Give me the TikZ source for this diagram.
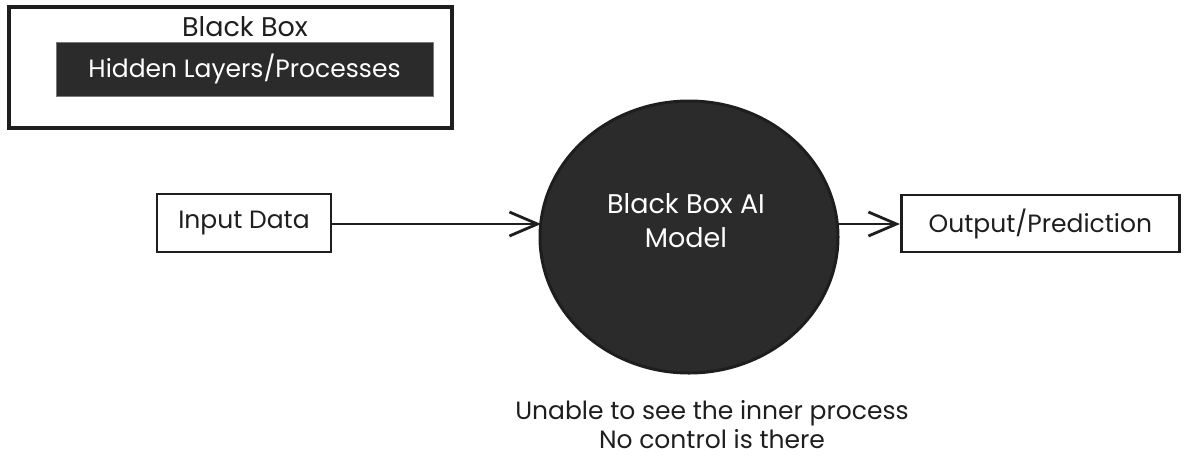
\documentclass[tikz,border=0pt]{standalone}
\usepackage{fontspec}
\setmainfont{Poppins}
\usetikzlibrary{arrows.meta,shapes.geometric}
\definecolor{ink}{HTML}{1E1E1E}
\definecolor{darkfill}{HTML}{2B2B2B}
\tikzset{
  frame/.style={draw=ink, line width=3.2pt},
  plainbox/.style={draw=ink, line width=2.8pt, fill=white, inner sep=0pt},
  darkbox/.style={draw=ink!60, line width=1pt, fill=darkfill, inner sep=0pt, text=white},
  lbl/.style={text=ink, font=\fontsize{25}{29}\selectfont},
  biglbl/.style={text=ink, font=\fontsize{27}{32}\selectfont},
  arr/.style={draw=ink, line width=2.8pt, -{Straight Barb[length=28pt,width=24pt,line width=2.8pt]}},
}
\begin{document}
\begin{tikzpicture}[x=1pt, y=-1pt]
  \useasboundingbox (0,0) rectangle (1186,459);

  % framed legend at the top left
  \draw[frame] (9,7) rectangle (452,128);
  \node[biglbl] (bbtitle) at (245,27) {Black Box};
  \node[darkbox, minimum width=377pt, minimum height=54pt] (hidden) at (244.5,69) {};
  \node[lbl, text=white] (hiddentext) at (244.5,69) {Hidden Layers/Processes};

  % input and output boxes
  \node[plainbox, lbl, minimum width=174pt, minimum height=58pt] (in) at (244,223) {Input Data};
  \node[plainbox, lbl, minimum width=278pt, minimum height=57pt, anchor=west] (out) at (900,223.5) {Output/Prediction};

  % the opaque model
  \node[ellipse, draw=ink, line width=3pt, fill=darkfill, minimum width=298pt, minimum height=272pt, inner sep=0pt] (model) at (689,237) {};
  \node[biglbl, text=white, align=center] (modeltext) at (686,221) {Black Box AI\\[2pt]Model};

  % flow
  \coordinate (inhit) at (541,224);
  \coordinate (outstart) at (838,224);
  \draw[arr] (in.east |- inhit) -- (inhit);
  \draw[arr] (outstart) -- (out.west |- outstart);

  % caption
  \node[lbl, align=center] (caption) at (712,425) {Unable to see the inner process\\No control is there};
\end{tikzpicture}
\end{document}
